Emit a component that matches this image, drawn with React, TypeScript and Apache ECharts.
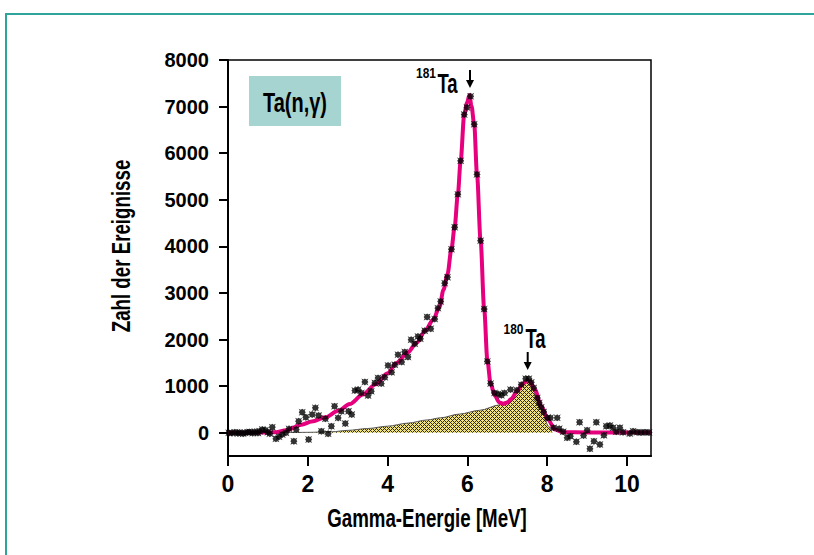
import React, { useEffect, useRef } from "react";
import * as echarts from "echarts";

// ---- data ----
const xTicks = [0, 2, 4, 6, 8, 10];
const yTicks = [0, 1000, 2000, 3000, 4000, 5000, 6000, 7000, 8000];

// measured events: [energy MeV, counts]
const measured: [number, number][] = [
  [0.02, 0], [0.1, -10], [0.17, 10], [0.25, -15], [0.29, 5], [0.38, -20], [0.42, 0],
  [0.5, 10], [0.54, 15], [0.62, -10], [0.67, 20], [0.75, -5], [0.79, 30], [0.86, 68],
  [0.94, 54], [1.0, 10], [1.05, -20], [1.11, 118],
  [1.2, -131], [1.28, -88], [1.36, -39], [1.45, 0], [1.53, 83], [1.65, -182], [1.71, 68],
  [1.77, 246], [1.86, 439], [1.95, 332], [2.02, -146], [2.11, 390], [2.19, 533], [2.27, 368],
  [2.34, 32], [2.44, 300], [2.51, -24], [2.59, 139], [2.67, 567], [2.76, 318], [2.84, 460],
  [2.94, 197], [3.02, 460], [3.1, 390],
  [3.18, 904], [3.26, 925], [3.34, 854], [3.43, 1090], [3.51, 797], [3.59, 889], [3.68, 1068],
  [3.76, 1175], [3.84, 1054], [3.93, 1189], [4.01, 1445], [4.1, 1296], [4.18, 1460], [4.26, 1675],
  [4.35, 1518], [4.43, 1732], [4.51, 1625], [4.59, 1996], [4.68, 1910], [4.76, 2066], [4.82, 2017],
  [4.93, 2188], [4.99, 2482], [5.08, 2231], [5.18, 2439], [5.26, 2674], [5.33, 2816], [5.43, 3210],
  [5.5, 3338], [5.6, 3938], [5.68, 4409], [5.76, 5116], [5.83, 5835], [5.92, 6829], [5.99, 6979],
  [6.08, 7220], [6.17, 6621], [6.24, 5544], [6.33, 4122], [6.42, 2653], [6.5, 1531], [6.58, 1054],
  [6.68, 854], [6.77, 833], [6.85, 803], [6.93, 854], [7.08, 925], [7.24, 910], [7.35, 1032],
  [7.46, 1160], [7.54, 1160], [7.6, 1081], [7.66, 961], [7.75, 747], [7.8, 640], [7.85, 546],
  [7.91, 447], [8.0, 319], [8.08, 319], [8.16, 105], [8.25, 319], [8.3, 84], [8.4, 19],
  [8.5, -109], [8.58, -75], [8.73, -195], [8.81, 225], [8.91, -60], [9.0, 54], [9.07, -345],
  [9.17, -182], [9.23, 225], [9.32, -253], [9.42, -53], [9.48, 139], [9.57, 154], [9.65, 105],
  [9.73, 19], [9.82, 105], [9.9, 11], [10.07, -17], [10.15, 32], [10.25, 10], [10.35, 5],
  [10.45, 10], [10.55, 5],
];

// fitted spectrum (magenta)
const fitCurve: [number, number][] = [
  [0, 0], [0.5, 0], [1.0, 5], [1.2, 10], [1.46, 54], [1.84, 170], [2.1, 240], [2.44, 330],
  [2.76, 470], [3.05, 615], [3.38, 820], [3.7, 1040], [4.0, 1277], [4.22, 1497], [4.5, 1720],
  [4.72, 1925], [4.95, 2200], [5.14, 2424], [5.3, 2700], [5.4, 3070], [5.5, 3400], [5.6, 3950],
  [5.68, 4420], [5.76, 5120], [5.83, 5835], [5.92, 6830], [5.99, 7080], [6.05, 7250], [6.1, 7020],
  [6.17, 6620], [6.24, 5544], [6.33, 4122], [6.42, 2653], [6.5, 1550], [6.58, 1060], [6.68, 800],
  [6.8, 650], [6.9, 620], [7.0, 650], [7.1, 726], [7.25, 900], [7.39, 1050], [7.5, 1115],
  [7.57, 1100], [7.69, 925], [7.85, 567], [8.02, 283], [8.19, 69], [8.4, 10], [9.0, 5], [10.6, 5],
];

// 180Ta component (hatched)
const ta180Component: [number, number][] = [
  [1.3, 0], [2.0, 8], [2.6, 20], [3.0, 50], [3.5, 90], [4.0, 140], [4.5, 205], [5.0, 275],
  [5.33, 320], [5.8, 400], [6.3, 480], [6.82, 600], [7.0, 680], [7.1, 760], [7.3, 960],
  [7.48, 1110], [7.6, 1030], [7.75, 720], [7.9, 430], [8.02, 150], [8.12, 0],
];

const FONT = "'Liberation Sans', Arial, sans-serif";

function makeHatch() {
  const c = document.createElement("canvas");
  c.width = 4;
  c.height = 4;
  const ctx = c.getContext("2d")!;
  ctx.fillStyle = "#f4e473";
  ctx.fillRect(0, 0, 4, 4);
  ctx.fillStyle = "#262626";
  for (let x = 0; x < 4; x++) {
    for (let y = 0; y < 4; y++) {
      if ((x + y) % 4 === 0 || (((x - y) % 4) + 4) % 4 === 0) ctx.fillRect(x, y, 1, 1);
    }
  }
  return c;
}

const STAR =
  "path://M0,0L3,1.5L5,0L7,1.5L10,0L8.5,3L10,5L8.5,7L10,10L7,8.5L5,10L3,8.5L0,10L1.5,7L0,5L1.5,3Z";

export default function App() {
  const ref = useRef<HTMLDivElement>(null);
  useEffect(() => {
    if (!ref.current) return;
    const chart = echarts.init(ref.current, null, { renderer: "svg" });
    const hatch = makeHatch();
    const textStyle = (t: string, size: number) => ({
      text: t,
      fontFamily: FONT,
      fontWeight: "bold",
      fontSize: size,
      fill: "#000",
      align: "center",
      verticalAlign: "middle",
    });
    chart.setOption({
      animation: false,
      backgroundColor: "#fff",
      grid: {
        left: 228,
        top: 60,
        right: 163,
        bottom: 99,
        show: true,
        borderColor: "#000",
        borderWidth: 1.5,
        backgroundColor: "transparent",
      },
      xAxis: {
        type: "value",
        min: 0,
        max: 10.6,
        axisLine: { show: true, onZero: false, lineStyle: { color: "#000", width: 2 } },
        axisTick: { show: true, length: 10, lineStyle: { color: "#000", width: 2 }, customValues: xTicks },
        axisLabel: {
          customValues: xTicks,
          formatter: (v: number) => String(v),
          fontFamily: FONT,
          fontWeight: "bold",
          fontSize: 23,
          color: "#000",
          margin: 16,
        },
        splitLine: { show: false },
      },
      yAxis: {
        type: "value",
        min: -500,
        max: 8000,
        axisLine: { show: true, onZero: false, lineStyle: { color: "#000", width: 2 } },
        axisTick: { show: true, length: 9, lineStyle: { color: "#000", width: 2 }, customValues: yTicks },
        axisLabel: {
          customValues: yTicks,
          formatter: (v: number) => String(v),
          fontFamily: FONT,
          fontWeight: "bold",
          fontSize: 20,
          color: "#000",
          margin: 19,
        },
        splitLine: { show: false },
      },
      series: [
        {
          type: "line",
          data: ta180Component,
          smooth: 0.3,
          smoothMonotone: "x",
          showSymbol: false,
          lineStyle: { color: "#555", width: 1 },
          areaStyle: {
            color: { image: hatch, repetition: "repeat", imageWidth: 4, imageHeight: 4 },
            opacity: 1,
          },
          z: 1,
        },
        {
          type: "line",
          data: fitCurve,
          smooth: 0.3,
          smoothMonotone: "x",
          showSymbol: false,
          lineStyle: { color: "#e6007e", width: 4 },
          z: 2,
        },
        {
          type: "scatter",
          data: measured,
          symbol: STAR,
          symbolSize: 7,
          itemStyle: { color: "#000" },
          z: 3,
        },
      ],
      graphic: [
        {
          type: "rect",
          shape: { x: 6, y: 14, width: 1000, height: 1000 },
          style: { fill: "none", stroke: "#2ea49a", lineWidth: 2 },
        },
        {
          type: "rect",
          shape: { x: 249, y: 76, width: 92, height: 50 },
          style: { fill: "#a6d4d1" },
          z: 10,
        },
        { type: "text", x: 295, y: 102, scaleX: 0.74, style: textStyle("Ta(n,γ)", 27), z: 11 },
        // x-axis name
        { type: "text", x: 427, y: 518, scaleX: 0.72, style: textStyle("Gamma-Energie [MeV]", 26) },
        // y-axis name
        {
          type: "text",
          x: 121,
          y: 246,
          rotation: Math.PI / 2,
          scaleX: 0.72,
          style: textStyle("Zahl der Ereignisse", 26),
        },
        // 181Ta
        { type: "text", x: 426, y: 73, scaleX: 0.85, style: textStyle("181", 14), z: 11 },
        { type: "text", x: 447.5, y: 84, scaleX: 0.66, style: textStyle("Ta", 28), z: 11 },
        { type: "line", shape: { x1: 470, y1: 70, x2: 470, y2: 82 }, style: { stroke: "#000", lineWidth: 2 }, z: 11 },
        { type: "polygon", shape: { points: [[466, 80], [474, 80], [470, 88]] }, style: { fill: "#000" }, z: 11 },
        // 180Ta
        { type: "text", x: 513.5, y: 329, scaleX: 0.85, style: textStyle("180", 14), z: 11 },
        { type: "text", x: 535.5, y: 339, scaleX: 0.66, style: textStyle("Ta", 28), z: 11 },
        { type: "line", shape: { x1: 527.7, y1: 352, x2: 527.7, y2: 364 }, style: { stroke: "#000", lineWidth: 2 }, z: 11 },
        { type: "polygon", shape: { points: [[523.7, 362], [531.7, 362], [527.7, 370]] }, style: { fill: "#000" }, z: 11 },
      ],
    });
    return () => chart.dispose();
  }, []);
  return (
    <div
      ref={ref}
      style={{ position: "fixed", left: 0, top: 0, width: 814, height: 555, background: "#fff" }}
    />
  );
}
